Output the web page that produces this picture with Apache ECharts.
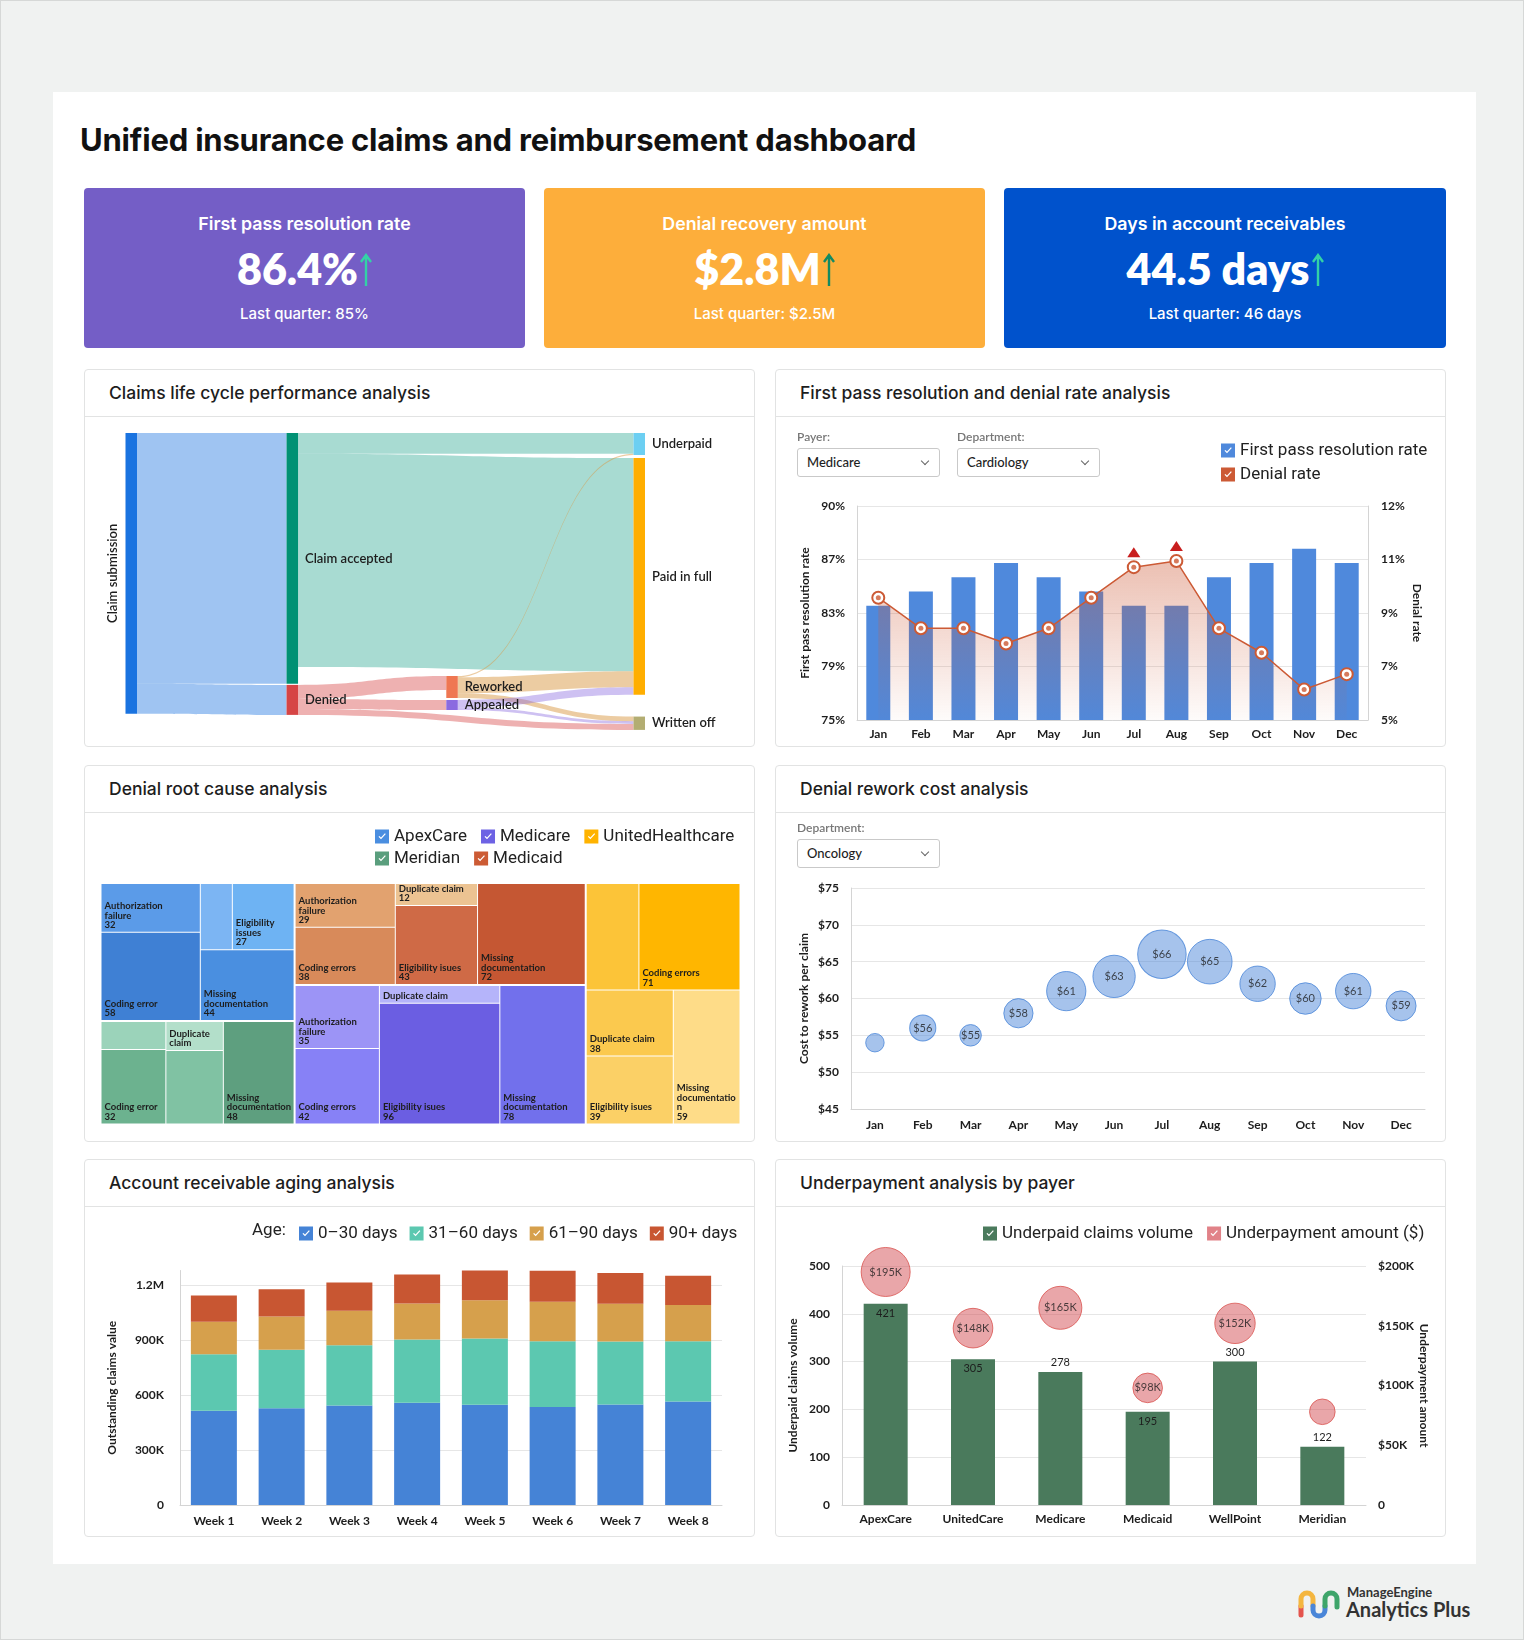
<!DOCTYPE html>
<html lang="en">
<head>
<meta charset="UTF-8">
<title>Unified insurance claims and reimbursement dashboard</title>
<script src="https://cdn.jsdelivr.net/npm/echarts@6/dist/echarts.min.js"></script>
<style>
  * { box-sizing: border-box; }
  body { margin: 0; background: #f0f2f1; font-family: Inter, Lato, 'Noto Sans', sans-serif; color: #1d1d1d; }
  .page { position: relative; width: 1524px; height: 1640px; box-shadow: inset 0 0 0 1px #d6d8d7; }
  .sheet { position: absolute; left: 53px; top: 92px; width: 1423px; height: 1472px; background: #fff; }
  .title { position: absolute; left: 80px; top: 121px; font-size: 31px; font-weight: 700; line-height: 38px; color: #111; letter-spacing: -0.2px; }
  .kpi { position: absolute; top: 188px; height: 160px; border-radius: 4px; color: #fff; text-align: center; }
  .kpi .t { position: absolute; left: 0; right: 0; top: 24px; line-height: 24px; font-size: 17.8px; font-weight: 600; }
  .kpi .v { position: absolute; left: 0; right: 0; top: 57px; line-height: 48px; font-size: 43px; font-weight: 800; font-family: Lato, sans-serif; }
  .kpi .v svg { margin-left: 2px; vertical-align: -2px; }
  .kpi .l { position: absolute; left: 0; right: 0; top: 116px; line-height: 20px; font-size: 15px; font-weight: 500; }
  .panel { position: absolute; width: 671px; background: #fff; border: 1px solid #e2e3e3; border-radius: 4px; }
  .panel .hd { height: 47px; border-bottom: 1px solid #e2e3e3; line-height: 46px; padding-left: 24px; font-size: 17.5px; font-weight: 500; color: #1d1d1d; }
  .panel .ch { position: absolute; left: 0; top: 47px; right: 0; bottom: 0; }
  .dd-label { position: absolute; font-size: 12px; line-height: 14px; color: #777; font-weight: 600; z-index: 2; font-family: Lato, sans-serif; }
  .dd { position: absolute; width: 143px; height: 29px; border: 1px solid #c9c9c9; border-radius: 3px; font-size: 13px; line-height: 27px; padding-left: 9px; background: #fff; z-index: 2; font-weight: 500; font-family: Lato, sans-serif; }
  .dd::after { content: ''; position: absolute; right: 11px; top: 9px; width: 5px; height: 5px; border-right: 1px solid #666; border-bottom: 1px solid #666; transform: rotate(45deg); }
  .logo-a { position: absolute; left: 1347px; top: 1584px; font-size: 13px; font-weight: 700; color: #333; font-family: Lato, sans-serif; }
  .logo-b { position: absolute; left: 1346px; top: 1597px; font-size: 20px; font-weight: 700; color: #333; font-family: Lato, sans-serif; }
</style>
</head>
<body>
<div class="page">
  <div class="sheet"></div>
  <div class="title">Unified insurance claims and reimbursement dashboard</div>

  <div class="kpi" style="left:84px;width:441px;background:#745ec6">
    <div class="t">First pass resolution rate</div>
    <div class="v">86.4%<svg width="12" height="34" viewBox="0 0 12 34"><path d="M6,33V3M1,9L6,2L11,9" fill="none" stroke="#33d2a6" stroke-width="2.4"/></svg></div>
    <div class="l">Last quarter: 85%</div>
  </div>
  <div class="kpi" style="left:544px;width:441px;background:#fdae3b">
    <div class="t">Denial recovery amount</div>
    <div class="v">$2.8M<svg width="12" height="34" viewBox="0 0 12 34"><path d="M6,33V3M1,9L6,2L11,9" fill="none" stroke="#138a62" stroke-width="2.4"/></svg></div>
    <div class="l">Last quarter: $2.5M</div>
  </div>
  <div class="kpi" style="left:1004px;width:442px;background:#0052cc">
    <div class="t">Days in account receivables</div>
    <div class="v">44.5 days<svg width="12" height="34" viewBox="0 0 12 34"><path d="M6,33V3M1,9L6,2L11,9" fill="none" stroke="#33d2a6" stroke-width="2.4"/></svg></div>
    <div class="l">Last quarter: 46 days</div>
  </div>

  <div class="panel" style="left:84px;top:369px;height:378px">
    <div class="hd">Claims life cycle performance analysis</div>
    <div class="ch" id="c-sankey"></div>
  </div>
  <div class="panel" style="left:775px;top:369px;height:378px">
    <div class="hd">First pass resolution and denial rate analysis</div>
    <div class="ch" id="c-firstpass"></div>
    <div class="dd-label" style="left:21px;top:60px">Payer:</div>
    <div class="dd" style="left:21px;top:78px">Medicare</div>
    <div class="dd-label" style="left:181px;top:60px">Department:</div>
    <div class="dd" style="left:181px;top:78px">Cardiology</div>
  </div>

  <div class="panel" style="left:84px;top:765px;height:377px">
    <div class="hd">Denial root cause analysis</div>
    <div class="ch" id="c-treemap"></div>
  </div>
  <div class="panel" style="left:775px;top:765px;height:377px">
    <div class="hd">Denial rework cost analysis</div>
    <div class="ch" id="c-rework"></div>
    <div class="dd-label" style="left:21px;top:55px">Department:</div>
    <div class="dd" style="left:21px;top:73px">Oncology</div>
  </div>

  <div class="panel" style="left:84px;top:1159px;height:378px">
    <div class="hd">Account receivable aging analysis</div>
    <div class="ch" id="c-aging"></div>
  </div>
  <div class="panel" style="left:775px;top:1159px;height:378px">
    <div class="hd">Underpayment analysis by payer</div>
    <div class="ch" id="c-underpay"></div>
  </div>

  <svg width="44" height="34" viewBox="0 0 44 34" style="position:absolute;left:1297px;top:1586px">
    <g fill="none" stroke-width="5" stroke-linecap="round">
      <path d="M4,29V20" stroke="#e4544d"/>
      <path d="M4,20V13A6,6 0 0 1 16,13V20" stroke="#f4b63f"/>
      <path d="M16,20V24A6,6 0 0 0 28,24V20" stroke="#4a86d8"/>
      <path d="M28,20V13A6,6 0 0 1 40,13V21" stroke="#3ea56a"/>
    </g>
  </svg>
  <div class="logo-a">ManageEngine</div>
  <div class="logo-b">Analytics Plus</div>
</div>

<script>
    // ---------- data ----------
    const months = ['Jan', 'Feb', 'Mar', 'Apr', 'May', 'Jun', 'Jul', 'Aug', 'Sep', 'Oct', 'Nov', 'Dec'];

    // claims life cycle (sankey)
    const sankeyNodes = ['Claim submission', 'Claim accepted', 'Denied', 'Reworked', 'Appealed', 'Underpaid', 'Paid in full', 'Written off'];
    const sankeyLinks = [
        ['Claim submission', 'Claim accepted', 752],
        ['Claim submission', 'Denied', 90],
        ['Claim accepted', 'Underpaid', 62],
        ['Claim accepted', 'Paid in full', 640],
        ['Denied', 'Reworked', 42],
        ['Denied', 'Appealed', 30],
        ['Denied', 'Written off', 18],
        ['Reworked', 'Underpaid', 4],
        ['Reworked', 'Paid in full', 48],
        ['Reworked', 'Written off', 14],
        ['Appealed', 'Paid in full', 22],
        ['Appealed', 'Written off', 8]
    ];

    // first pass resolution / denial rate
    const firstPassRate = [83, 84, 85, 86, 85, 84, 83, 83, 85, 86, 87, 86];
    const denialRate = [9.0, 8.0, 8.0, 7.5, 8.0, 9.0, 10.0, 10.2, 8.0, 7.2, 6.0, 6.5];

    // denial root causes (treemap)
    const payers = ['ApexCare', 'Meridian', 'Medicaid', 'Medicare', 'UnitedHealthcare'];
    const apexCareCauses = [['Authorization failure', 32], ['Coding error', 58], ['Duplicate claim', 14], ['Eligibility issues', 27], ['Missing documentation', 44]];
    const meridianCauses = [['Eligibility issues', 12], ['Coding error', 32], ['Duplicate claim', 11], ['Authorization failure', 28], ['Missing documentation', 48]];
    const medicaidCauses = [['Authorization failure', 29], ['Coding errors', 38], ['Duplicate claim', 12], ['Eligibility isues', 43], ['Missing documentation', 72]];
    const medicareCauses = [['Authorization failure', 35], ['Coding errors', 42], ['Duplicate claim', 14], ['Eligibility isues', 96], ['Missing documentation', 78]];
    const unitedCauses = [['Authorization failure', 37], ['Coding errors', 71], ['Duplicate claim', 38], ['Eligibility isues', 39], ['Missing documentation', 59]];

    // rework cost
    const reworkCost = [54, 56, 55, 58, 61, 63, 66, 65, 62, 60, 61, 59];
    const reworkVolume = [120, 170, 140, 190, 255, 275, 315, 290, 230, 205, 230, 195];

    // AR aging
    const weeks = ['Week 1', 'Week 2', 'Week 3', 'Week 4', 'Week 5', 'Week 6', 'Week 7', 'Week 8'];
    const age0to30 = [515000, 529000, 543000, 558000, 547000, 536000, 549000, 565000];
    const age31to60 = [308000, 319000, 330000, 346000, 362000, 359000, 344000, 330000];
    const age61to90 = [178000, 182000, 188000, 197000, 210000, 215000, 206000, 197000];
    const age90plus = [143000, 148000, 155000, 158000, 162000, 169000, 169000, 160000];

    // underpayment
    const underpayPayers = ['ApexCare', 'UnitedCare', 'Medicare', 'Medicaid', 'WellPoint', 'Meridian'];
    const underpaidVolume = [421, 305, 278, 195, 300, 122];
    const underpaidAmount = [195000, 148000, 165000, 98000, 152000, 78000];

    // ---------- styling ----------
    const FONT = 'Lato';
    const CHECK = 'path://M0,0L14,0L14,14L0,14Z M3.5,7.2L6,9.7L10.8,4.6L9.9,3.8L6,8L4.4,6.4Z';
    const tickFont = { color: '#1d1d1d', fontSize: 12, fontWeight: 700, fontFamily: FONT };
    const nameFont = { color: '#1d1d1d', fontSize: 12, fontWeight: 700, fontFamily: FONT };
    const gridLine = { show: true, lineStyle: { color: '#e6e6e6' } };
    const axisLn = { show: true, lineStyle: { color: '#d4d4d4' } };
    const legendText = { fontSize: 17, color: '#222', fontFamily: 'Roboto' };

    const nodeColors = {
        'Claim submission': '#1a73e0', 'Claim accepted': '#009174', 'Denied': '#d64545',
        'Reworked': '#ef7752', 'Appealed': '#8b6be0', 'Underpaid': '#6ccff2',
        'Paid in full': '#ffae00', 'Written off': '#b3ad72'
    };
    // node placement within the layout box (ratios), to follow the original picture
    const nodePlace = {
        'Claim accepted': { localX: 0.31, localY: 0 },
        'Denied': { localX: 0.31, localY: 0.851 },
        'Reworked': { localX: 0.6175, localY: 0.821 },
        'Appealed': { localX: 0.6175, localY: 0.902 },
        'Paid in full': { localY: 0.0845 },
        'Written off': { localY: 0.958 }
    };
    const linkColorBySource = { 'Reworked': '#d99a45', 'Claim accepted': '#1aa088' };

    const payerColors = { ApexCare: '#4a8ee0', Medicare: '#6d62e4', UnitedHealthcare: '#ffb300', Meridian: '#5a9e7d', Medicaid: '#cc5b34' };
    const leafColors = {
        ApexCare: ['#5b9be8', '#3f80d4', '#7cb5f3', '#6eb3f3', '#4a8fe0'],
        Meridian: ['#9bd3ba', '#6cb28f', '#b3dfca', '#80c2a3', '#5e9f7f'],
        Medicaid: ['#e2a26f', '#d88a5a', '#ecc392', '#cf6a46', '#c55733'],
        Medicare: ['#9c94f6', '#8781f6', '#b5b4fa', '#6b5ee2', '#7270ec'],
        UnitedHealthcare: ['#fcc438', '#ffb600', '#fbc94e', '#fbd066', '#fedc88']
    };
    const causesByPayer = { ApexCare: apexCareCauses, Meridian: meridianCauses, Medicaid: medicaidCauses, Medicare: medicareCauses, UnitedHealthcare: unitedCauses };
    const unlabeledLeaves = ['ApexCare|Duplicate claim', 'Meridian|Authorization failure', 'Meridian|Eligibility issues', 'UnitedHealthcare|Authorization failure'];
    const volumeLabelPos = ['insideTop', 'insideTop', 'top', 'insideTop', 'top', 'top'];
    const amountBubble = v => 10 + v / 1000 * 0.2;

    // ---------- 1. sankey ----------
    const sankeyChart = echarts.init(document.getElementById('c-sankey'));
    sankeyChart.setOption({
        animation: false,
        textStyle: { fontFamily: FONT },
        series: [{
            type: 'sankey',
            left: 40.5, right: 109, top: 16, bottom: 17,
            nodeWidth: 11.5,
            nodeGap: 12,
            layoutIterations: 0,
            draggable: false,
            data: sankeyNodes.map(name => Object.assign({
                name: name,
                itemStyle: { color: nodeColors[name], borderWidth: 0 },
                label: name === 'Claim submission'
                    ? { position: 'left', rotate: 90, align: 'center', verticalAlign: 'bottom', distance: 6 }
                    : undefined
            }, nodePlace[name] || {})),
            links: sankeyLinks.map(([s, t, v]) => ({
                source: s, target: t, value: v,
                lineStyle: linkColorBySource[s] ? { color: linkColorBySource[s], opacity: s === 'Reworked' ? 0.5 : 0.38 } : undefined
            })),
            lineStyle: { color: 'source', opacity: 0.42, curveness: 0.5 },
            label: { position: 'right', distance: 7, color: '#1d1d1d', fontSize: 13, fontWeight: 600, fontFamily: FONT }
        }]
    });

    // ---------- 2. first pass / denial ----------
    const fpChart = echarts.init(document.getElementById('c-firstpass'));
    fpChart.setOption({
        animation: false,
        textStyle: { fontFamily: FONT },
        legend: {
            orient: 'vertical', left: 440, top: 20, itemWidth: 14, itemHeight: 14, itemGap: 7,
            textStyle: legendText, selectedMode: false,
            data: [
                { name: 'First pass resolution rate', icon: CHECK, itemStyle: { color: '#4f89dc', borderWidth: 0 } },
                { name: 'Denial rate', icon: CHECK, itemStyle: { color: '#cc5a35', borderWidth: 0 } }
            ]
        },
        grid: { left: 81, right: 77, top: 89, bottom: 26, outerBoundsMode: 'none' },
        xAxis: {
            type: 'category', data: months,
            axisTick: { show: false }, axisLine: axisLn,
            axisLabel: Object.assign({ margin: 8 }, tickFont)
        },
        yAxis: [{
            type: 'value', min: 75, max: 90, interval: 3.75,
            name: 'First pass resolution rate', nameLocation: 'middle', nameGap: 46, nameMoveOverlap: false,
            nameTextStyle: nameFont,
            axisLine: axisLn, splitLine: gridLine,
            axisLabel: Object.assign({ margin: 12, formatter: v => Math.ceil(v - 1e-6) + '%' }, tickFont)
        }, {
            type: 'value', min: 5, max: 12, interval: 1.75,
            name: 'Denial rate', nameLocation: 'middle', nameGap: 43, nameRotate: -90, nameMoveOverlap: false,
            nameTextStyle: nameFont,
            axisLine: axisLn, splitLine: { show: false },
            axisLabel: Object.assign({ margin: 13, formatter: v => Math.ceil(v - 1e-6) + '%' }, tickFont)
        }],
        series: [{
            name: 'First pass resolution rate', type: 'bar', data: firstPassRate,
            barWidth: 24, itemStyle: { color: '#4f89dc' }
        }, {
            name: 'Denial rate', type: 'line', yAxisIndex: 1, data: denialRate,
            symbol: 'circle', symbolSize: 12,
            lineStyle: { color: '#cc5a35', width: 1.5 },
            itemStyle: { color: '#fff', borderColor: '#cc5a35', borderWidth: 2 },
            areaStyle: {
                origin: 'start',
                color: new echarts.graphic.LinearGradient(0, 0, 0, 1, [
                    { offset: 0, color: 'rgba(205,90,55,0.55)' },
                    { offset: 1, color: 'rgba(205,90,55,0.03)' }
                ])
            },
            markPoint: {
                symbol: 'triangle', symbolSize: [13, 10], symbolOffset: [0, -15],
                itemStyle: { color: '#c81e1e' }, label: { show: false },
                data: denialRate.map((v, i) => v >= 10 ? { coord: [months[i], v] } : null).filter(Boolean)
            }
        }, {
            type: 'scatter', yAxisIndex: 1, data: denialRate, symbolSize: 5,
            itemStyle: { color: '#cc5a35' }, silent: true, z: 5
        }]
    });

    // ---------- 3. treemap ----------
    const tmChart = echarts.init(document.getElementById('c-treemap'));
    const legendRow = names => names.map(n => ({ name: n, icon: CHECK }));
    // long cause names go on two lines, as in the original
    const leafLabel = p => (p.name.length > 18 ? p.name.replace(' ', '\n') : p.name) + '\n' + p.value;
    tmChart.setOption({
        animation: false,
        textStyle: { fontFamily: FONT },
        legend: [
            { left: 285, top: 10, itemWidth: 14, itemHeight: 14, itemGap: 14, textStyle: legendText, selectedMode: false, data: legendRow(['ApexCare', 'Medicare', 'UnitedHealthcare']) },
            { left: 285, top: 32, itemWidth: 14, itemHeight: 14, itemGap: 14, textStyle: legendText, selectedMode: false, data: legendRow(['Meridian', 'Medicaid']) }
        ],
        series: [{
            type: 'pie', center: [-300, -300], radius: 1, silent: true, label: { show: false },
            data: payers.map(p => ({ name: p, value: 1, itemStyle: { color: payerColors[p] } }))
        }, {
            type: 'treemap',
            left: 16.5, right: 14.5, top: 71, bottom: 17.5,
            roam: false, nodeClick: false, sort: false,
            breadcrumb: { show: false },
            label: {
                show: true, position: 'insideBottomLeft', formatter: leafLabel,
                color: '#1d1d1d', fontSize: 9.5, fontWeight: 700, lineHeight: 9.5,
                overflow: 'break', padding: [0, 2, 2, 3], fontFamily: FONT
            },
            upperLabel: { show: false },
            levels: [
                { itemStyle: { borderWidth: 0, gapWidth: 2, borderColor: '#fff' } },
                { itemStyle: { borderWidth: 0, gapWidth: 1, borderColor: '#fff' } },
                { itemStyle: { borderWidth: 0 } }
            ],
            data: payers.map(p => ({
                name: p,
                children: causesByPayer[p].map(([cause, v], i) => ({
                    name: cause, value: v,
                    itemStyle: { color: leafColors[p][i] },
                    label: unlabeledLeaves.indexOf(p + '|' + cause) >= 0 ? { show: false } : undefined
                }))
            }))
        }]
    });

    // ---------- 4. rework cost bubbles ----------
    const rwChart = echarts.init(document.getElementById('c-rework'));
    rwChart.setOption({
        animation: false,
        textStyle: { fontFamily: FONT },
        grid: { left: 75, right: 20, top: 75, bottom: 32, outerBoundsMode: 'none' },
        xAxis: {
            type: 'category', data: months,
            axisTick: { show: false }, axisLine: axisLn,
            axisLabel: Object.assign({ margin: 10 }, tickFont)
        },
        yAxis: {
            type: 'value', min: 45, max: 75, interval: 5,
            name: 'Cost to rework per claim', nameLocation: 'middle', nameGap: 41, nameMoveOverlap: false,
            nameTextStyle: nameFont,
            axisLine: axisLn, splitLine: gridLine,
            axisLabel: Object.assign({ margin: 12, formatter: '${value}' }, tickFont)
        },
        series: [{
            type: 'scatter',
            data: months.map((m, i) => [m, reworkCost[i], reworkVolume[i]]),
            symbolSize: d => d[2] / 6.5,
            itemStyle: { color: 'rgba(74,134,216,0.62)', borderColor: '#4a86d8', borderWidth: 1 },
            label: {
                show: true, position: 'inside', color: '#1d1d1d', fontSize: 11, fontFamily: FONT,
                formatter: p => p.data[2] / 6.5 < 20 ? '' : '$' + p.data[1]
            }
        }]
    });

    // ---------- 5. AR aging ----------
    const agChart = echarts.init(document.getElementById('c-aging'));
    const ageSeries = [
        ['0–30 days', age0to30, '#4583d6'],
        ['31–60 days', age31to60, '#5cc8b0'],
        ['61–90 days', age61to90, '#d6a04c'],
        ['90+ days', age90plus, '#c85632']
    ];
    agChart.setOption({
        animation: false,
        textStyle: { fontFamily: FONT },
        graphic: [{ type: 'text', left: 167, top: 15, style: { text: 'Age:', fontSize: 17, fill: '#222', fontFamily: 'Roboto' } }],
        legend: {
            left: 209, top: 13, itemWidth: 14, itemHeight: 14, itemGap: 12, selectedMode: false,
            textStyle: legendText,
            data: ageSeries.map(s => ({ name: s[0], icon: CHECK }))
        },
        grid: { left: 95, right: 32, top: 63.5, bottom: 31, outerBoundsMode: 'none' },
        xAxis: {
            type: 'category', data: weeks,
            axisTick: { show: false }, axisLine: axisLn,
            axisLabel: Object.assign({ margin: 10 }, tickFont)
        },
        yAxis: {
            type: 'value', min: 0, max: 'dataMax', interval: 300000,
            name: 'Outstanding claims value', nameLocation: 'middle', nameGap: 62, nameMoveOverlap: false,
            nameTextStyle: nameFont,
            axisLine: axisLn, splitLine: Object.assign({ showMaxLine: false }, gridLine),
            axisLabel: Object.assign({
                margin: 16, showMaxLabel: false,
                formatter: v => v === 0 ? '0' : v >= 1e6 ? (v / 1e6) + 'M' : (v / 1e3) + 'K'
            }, tickFont)
        },
        series: ageSeries.map(([name, data, color]) => ({
            name: name, type: 'bar', stack: 'age', data: data, barWidth: 46,
            itemStyle: { color: color }
        }))
    });

    // ---------- 6. underpayment ----------
    const upChart = echarts.init(document.getElementById('c-underpay'));
    upChart.setOption({
        animation: false,
        textStyle: { fontFamily: FONT },
        legend: {
            left: 202, top: 13, itemWidth: 14, itemHeight: 14, itemGap: 14, selectedMode: false,
            textStyle: legendText,
            data: [
                { name: 'Underpaid claims volume', icon: CHECK, itemStyle: { color: '#4a7a5c', borderWidth: 0 } },
                { name: 'Underpayment amount ($)', icon: CHECK, itemStyle: { color: '#d9636a', borderWidth: 0 } }
            ]
        },
        grid: { left: 66, right: 79, top: 59, bottom: 31, outerBoundsMode: 'none' },
        xAxis: {
            type: 'category', data: underpayPayers,
            axisTick: { show: false }, axisLine: axisLn,
            axisLabel: Object.assign({ margin: 8 }, tickFont)
        },
        yAxis: [{
            type: 'value', min: 0, max: 500, interval: 100,
            name: 'Underpaid claims volume', nameLocation: 'middle', nameGap: 43, nameMoveOverlap: false,
            nameTextStyle: nameFont,
            axisLine: axisLn, splitLine: gridLine,
            axisLabel: Object.assign({ margin: 12 }, tickFont)
        }, {
            type: 'value', min: 0, max: 200000, interval: 50000,
            name: 'Underpayment amount', nameLocation: 'middle', nameGap: 52, nameRotate: -90, nameMoveOverlap: false,
            nameTextStyle: nameFont,
            axisLine: { show: false }, splitLine: { show: false },
            axisLabel: Object.assign({ margin: 12, formatter: v => v === 0 ? '0' : '$' + v / 1000 + 'K' }, tickFont)
        }],
        series: [{
            name: 'Underpaid claims volume', type: 'bar', barWidth: 44,
            data: underpaidVolume.map((v, i) => ({ value: v, label: { position: volumeLabelPos[i] } })),
            itemStyle: { color: '#4a7a5c' },
            label: { show: true, color: '#1d1d1d', fontSize: 11, distance: 4, fontFamily: FONT }
        }, {
            name: 'Underpayment amount ($)', type: 'scatter', yAxisIndex: 1,
            data: underpaidAmount,
            symbolSize: v => amountBubble(v),
            itemStyle: { color: 'rgba(210,70,75,0.6)', borderColor: '#d9534f', borderWidth: 1 },
            label: {
                show: true, position: 'inside', color: '#1d1d1d', fontSize: 11, fontFamily: FONT,
                formatter: p => amountBubble(p.value) < 27 ? '' : '$' + p.value / 1000 + 'K'
            },
            z: 5
        }]
    });
</script>
</body>
</html>
